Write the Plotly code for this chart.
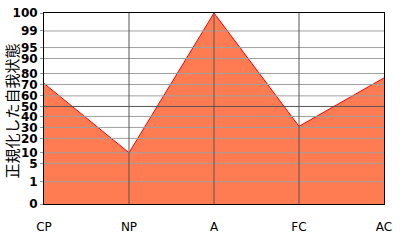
import numpy as np
import plotly.graph_objects as go

categories = ["CP", "NP", "A", "FC", "AC"]
values = [71, 10, 100, 31, 76]

# nonlinear percentile scale (label -> position units)
tick_labels = [0, 1, 5, 10, 20, 30, 40, 50, 60, 70, 80, 90, 95, 99, 100]
tick_pos = [0, 22.3, 40.7, 51.3, 65.7, 76.7, 87.7, 97.7, 108.3, 119.7, 130.7, 145.7, 156.7, 173.3, 191.3]


def scale(v):
    return np.interp(v, tick_labels, tick_pos)


xs = list(range(len(categories)))
ys = scale(values)

fig = go.Figure()
fig.add_trace(go.Scatter(
    x=xs, y=ys, mode="lines", fill="tozeroy",
    fillcolor="#FF7B51", line=dict(color="#FF0000", width=1),
    hoverinfo="skip", showlegend=False,
))

shapes = []
for lab, p in zip(tick_labels, tick_pos):
    if lab in (0, 100):
        continue
    col = "#555555" if lab == 50 else "#A0A0A0"
    shapes.append(dict(type="line", xref="paper", yref="y", x0=0, x1=1, y0=p, y1=p,
                       line=dict(color=col, width=1), layer="above"))
for i in xs[1:-1]:
    shapes.append(dict(type="line", xref="x", yref="paper", x0=i, x1=i, y0=0, y1=1,
                       line=dict(color="#555555", width=1), layer="above"))

fig.update_layout(
    width=400, height=240,
    margin=dict(l=44, r=16, t=13, b=36, autoexpand=False),
    paper_bgcolor="white", plot_bgcolor="white",
    shapes=shapes,
    annotations=[dict(text="正規化した自我状態", xref="paper", yref="paper",
                      x=0.0, xshift=-33, y=0.5, yshift=-3, textangle=-90, showarrow=False,
                      xanchor="center", yanchor="middle",
                      font=dict(family="Noto Sans CJK JP", size=15, color="black"))],
    xaxis=dict(range=[0, 4], tickvals=xs, ticktext=categories, showgrid=False,
               zeroline=False, showline=True, linecolor="black", linewidth=1, mirror=True,
               ticks="", ticklabelstandoff=12, automargin=False,
               tickfont=dict(family="DejaVu Sans", size=12, color="black")),
    yaxis=dict(range=[0, tick_pos[-1]], tickvals=tick_pos, ticktext=[str(t) for t in tick_labels],
               showgrid=False, zeroline=False, showline=True, linecolor="black", linewidth=1,
               mirror=True, ticks="outside", ticklen=3, tickcolor="#999999", automargin=False,
               tickfont=dict(family="DejaVu Sans", size=12, color="black", weight="bold")),
)

fig.write_html("out.html")
